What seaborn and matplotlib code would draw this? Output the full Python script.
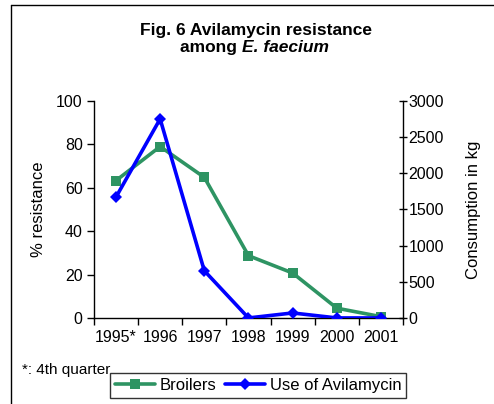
import numpy as np
import pandas as pd
import matplotlib
matplotlib.use("Agg")
import matplotlib.pyplot as plt
import seaborn as sns
from matplotlib.lines import Line2D

years = ["1995*", "1996", "1997", "1998", "1999", "2000", "2001"]
broilers = [63.3, 79.0, 64.8, 28.7, 20.7, 4.5, 0.6]
avilamycin = [1670, 2752, 653, 0, 69, 0, 0]

sns.set_theme(style="white")
plt.rcParams['font.family'] = ['Liberation Sans', 'DejaVu Sans']
plt.rcParams['text.color'] = 'black'
plt.rcParams['axes.labelcolor'] = 'black'

df = pd.DataFrame({"year": years, "broilers": broilers, "avilamycin": avilamycin})

fig = plt.figure(figsize=(4.94, 4.04), dpi=100)
ax = fig.add_axes([0.190, 0.213, 0.626, 0.537])
ax2 = ax.twinx()

green = "#2E9463"
blue = "#0000FF"

sns.lineplot(data=df, x="year", y="broilers", ax=ax, color=green, lw=2.6,
             marker="s", markersize=7.5, markeredgewidth=0, sort=False, legend=False)
sns.lineplot(data=df, x="year", y="avilamycin", ax=ax2, color=blue, lw=2.6,
             marker="D", markersize=6, markeredgewidth=0, sort=False, legend=False)

ax.set_xlim(-0.5, 6.5)
ax.set_ylim(0, 100)
ax2.set_ylim(0, 3000)
ax.set_yticks(np.arange(0, 101, 20))
ax2.set_yticks(np.arange(0, 3001, 500))
ax.set_xticks(range(len(years)))
ax.set_xticklabels(years)
ax.set_xticks(np.arange(-0.5, 7, 1), minor=True)

for a in (ax, ax2):
    a.set_facecolor("none")
    for s in a.spines.values():
        s.set_visible(False)
ax.spines['left'].set_visible(True)
ax.spines['bottom'].set_visible(True)
ax2.spines['right'].set_visible(True)
for sname in ('left', 'bottom'):
    ax.spines[sname].set_color("black")
    ax.spines[sname].set_linewidth(1.0)
ax2.spines['right'].set_color("black")
ax2.spines['right'].set_linewidth(1.0)

fs = 11.5
ax.tick_params(axis='x', which='major', length=0, labelsize=fs, pad=9, colors="black")
ax.tick_params(axis='x', which='minor', length=5, width=1, direction='out', bottom=True, color="black")
ax.tick_params(axis='y', length=5, width=1, direction='out', left=True, labelsize=fs, colors="black", pad=3)
ax2.tick_params(axis='y', length=6, width=1, direction='inout', right=True, labelsize=fs, colors="black", pad=1)

ax.set_xlabel("")
ax.set_ylabel("% resistance", fontsize=12, color="black", labelpad=7)
ax2.set_ylabel("Consumption in kg", fontsize=12, color="black", labelpad=16)

fig.text(0.518, 0.925, "Fig. 6 Avilamycin resistance", ha="center", va="center",
         fontsize=12.5, fontweight="bold", color="black")
fig.text(0.489, 0.883, "among ", ha="right", va="center", fontsize=12.5, fontweight="bold",
         color="black")
fig.text(0.489, 0.883, "E. faecium", ha="left", va="center", fontsize=12.5,
         fontweight="bold", style="italic", color="black")

fig.text(0.045, 0.085, "*: 4th quarter", ha="left", va="center", fontsize=11, color="black")

handles = [Line2D([], [], color=green, lw=2.6, marker="s", markersize=7.5, markeredgewidth=0),
           Line2D([], [], color=blue, lw=2.6, marker="D", markersize=6, markeredgewidth=0)]
leg = fig.legend(handles, ["Broilers", "Use of Avilamycin"], loc="center",
                 bbox_to_anchor=(0.522, 0.047), ncol=2, frameon=True, fancybox=False,
                 edgecolor="black", fontsize=12, handlelength=2.4, columnspacing=0.5,
                 handletextpad=0.3, borderpad=0.3, labelcolor="black")
leg.get_frame().set_linewidth(1.0)

fig.add_artist(Line2D([0.022, 0.022], [0, 0.988], transform=fig.transFigure, color="black", lw=1.0))
fig.add_artist(Line2D([0.022, 1.0], [0.988, 0.988], transform=fig.transFigure, color="black", lw=1.0))

fig.savefig("out.png", dpi=100)
